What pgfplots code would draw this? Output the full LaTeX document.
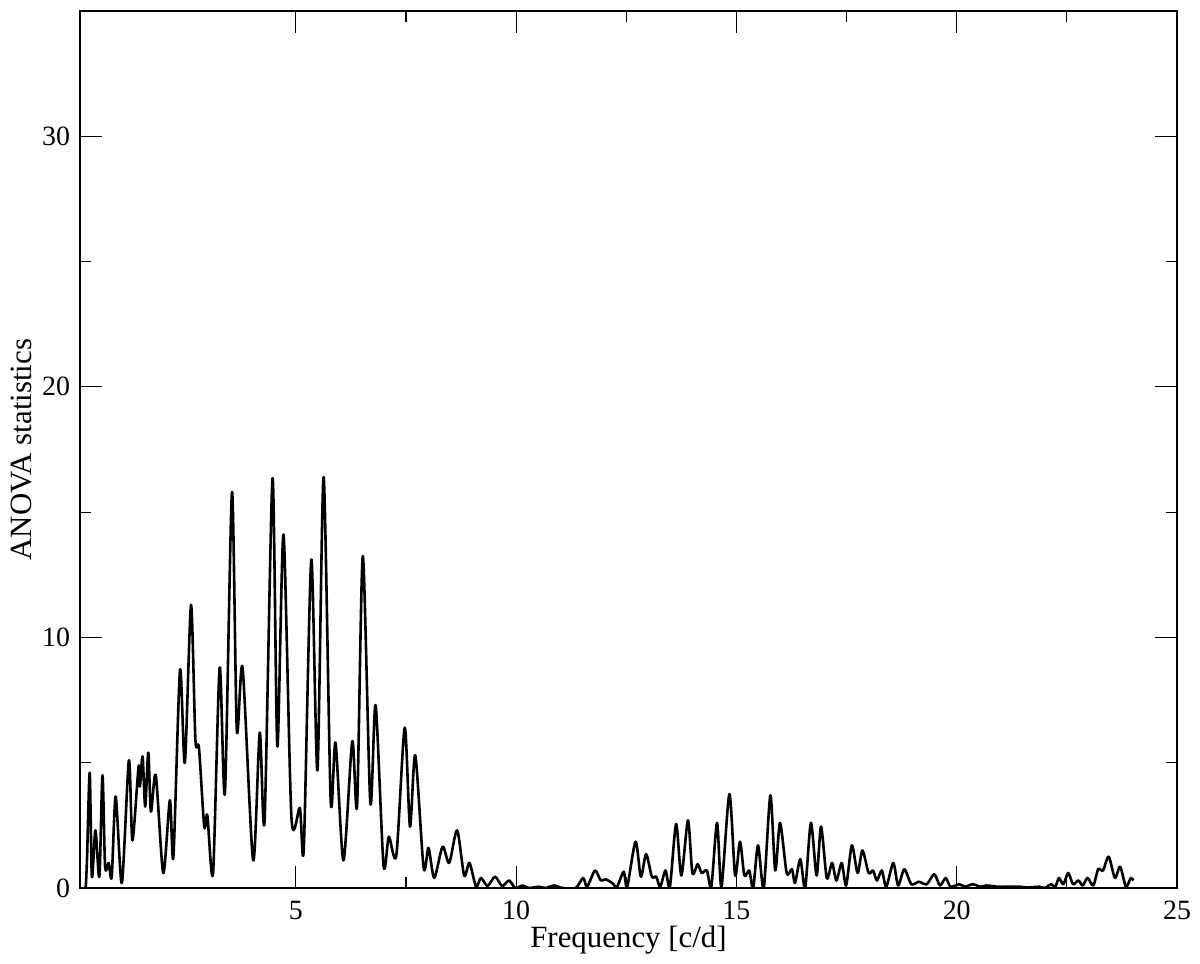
\documentclass[border=0pt]{standalone}
\usepackage{fontspec}
\setmainfont{Liberation Serif}
\usepackage{pgfplots}
\pgfplotsset{compat=1.18}

\pgfplotstableread{
f     a
0.20  0.00
0.23  0.05
0.26  1.20
0.32  4.60
0.37  0.44
0.45  2.30
0.54  0.44
0.61  4.50
0.67  0.85
0.75  1.00
0.82  0.45
0.91  3.65
1.05  0.20
1.21  5.10
1.29  1.90
1.43  4.85
1.46  4.05
1.52  5.25
1.58  3.25
1.65  5.40
1.71  3.05
1.82  4.50
1.99  0.60
2.14  3.50
2.22  1.25
2.37  8.70
2.48  5.00
2.62  11.30
2.72  5.90
2.80  5.60
2.92  2.45
2.99  2.90
3.12  0.60
3.27  8.80
3.39  3.80
3.55  15.80
3.66  6.30
3.79  8.80
4.03  1.10
4.18  6.20
4.29  2.70
4.47  16.35
4.58  5.65
4.72  14.10
4.90  2.80
5.09  3.20
5.18  1.60
5.35  13.10
5.49  4.70
5.63  16.40
5.79  3.50
5.90  5.80
6.08  1.10
6.28  5.85
6.39  3.30
6.52  13.25
6.69  3.40
6.81  7.30
6.99  0.90
7.11  2.05
7.28  1.30
7.47  6.40
7.59  2.45
7.71  5.30
7.90  0.80
8.01  1.60
8.14  0.40
8.33  1.65
8.48  1.00
8.66  2.30
8.82  0.50
8.94  1.00
9.09  0.05
9.20  0.40
9.35  0.08
9.52  0.45
9.68  0.08
9.84  0.30
9.98  0.00
10.14 0.10
10.29 0.00
10.52 0.05
10.67 0.00
10.86 0.10
11.05 0.00
11.35 0.00
11.52 0.40
11.61 0.05
11.79 0.70
11.92 0.30
12.03 0.35
12.18 0.20
12.29 0.05
12.44 0.65
12.52 0.05
12.71 1.85
12.83 0.45
12.95 1.35
13.08 0.45
13.18 0.45
13.27 0.05
13.39 0.70
13.49 0.05
13.63 2.55
13.75 0.50
13.90 2.70
14.00 0.60
14.12 0.95
14.21 0.60
14.33 0.70
14.43 0.05
14.56 2.60
14.66 0.05
14.84 3.75
14.97 0.50
15.08 1.85
15.18 0.50
15.29 0.70
15.38 0.00
15.49 1.70
15.62 0.00
15.77 3.70
15.88 0.70
15.99 2.60
16.14 0.60
16.26 0.75
16.33 0.20
16.45 1.15
16.56 0.00
16.69 2.60
16.82 0.50
16.92 2.45
17.05 0.40
17.17 1.00
17.27 0.30
17.39 1.00
17.49 0.10
17.62 1.70
17.75 0.60
17.86 1.50
18.00 0.60
18.10 0.70
18.19 0.30
18.30 0.70
18.40 0.05
18.56 1.00
18.67 0.10
18.81 0.75
18.97 0.15
19.14 0.25
19.32 0.15
19.49 0.55
19.62 0.10
19.75 0.40
19.86 0.05
20.06 0.15
20.19 0.05
20.36 0.15
20.54 0.05
20.67 0.10
20.93 0.05
21.10 0.05
21.45 0.05
21.60 0.02
21.88 0.05
22.00 0.00
22.14 0.15
22.24 0.05
22.32 0.40
22.42 0.15
22.53 0.60
22.64 0.15
22.76 0.30
22.86 0.10
22.97 0.40
23.10 0.10
23.21 0.75
23.32 0.70
23.45 1.25
23.59 0.40
23.71 0.85
23.84 0.05
23.95 0.40
24.01 0.30
}\anova

\begin{document}
\begin{tikzpicture}
% page = 1200 x 964 px, 1 px = 0.5 bp
\path[use as bounding box] (-40bp,-38bp) rectangle (560bp,444bp);
\begin{axis}[
    at={(0,0)}, anchor=south west,
    scale only axis,
    width=548.5bp, height=438.5bp,
    xmin=0.1, xmax=25,
    ymin=0, ymax=35,
    xtick={5,10,...,25},
    ytick={0,10,20,30},
    minor x tick num=1,
    minor y tick num=1,
    tick align=inside,
    major tick length=11bp,
    minor tick length=5.5bp,
    every tick/.style={black, line width=0.6bp},
    axis line style={line width=0.8bp},
    tick label style={font=\fontsize{14}{16.8}\selectfont},
    label style={font=\fontsize{15.5}{18.6}\selectfont},
    /pgf/number format/assume math mode=true,
    xlabel={Frequency [c/d]},
    ylabel={ANOVA statistics},
    xlabel style={at={(axis description cs:0.5,-0.0593)}, anchor=center},
    ylabel style={at={(axis description cs:-0.0529,0.5)}, anchor=center},
    xticklabel style={yshift=-3bp},
    yticklabel style={xshift=-1.5bp},
  ]
  \addplot[black, line width=1.3bp, line join=round, mark=none,
           smooth, tension=0.45] table[x=f, y=a] {\anova};
\end{axis}
\end{tikzpicture}
\end{document}
